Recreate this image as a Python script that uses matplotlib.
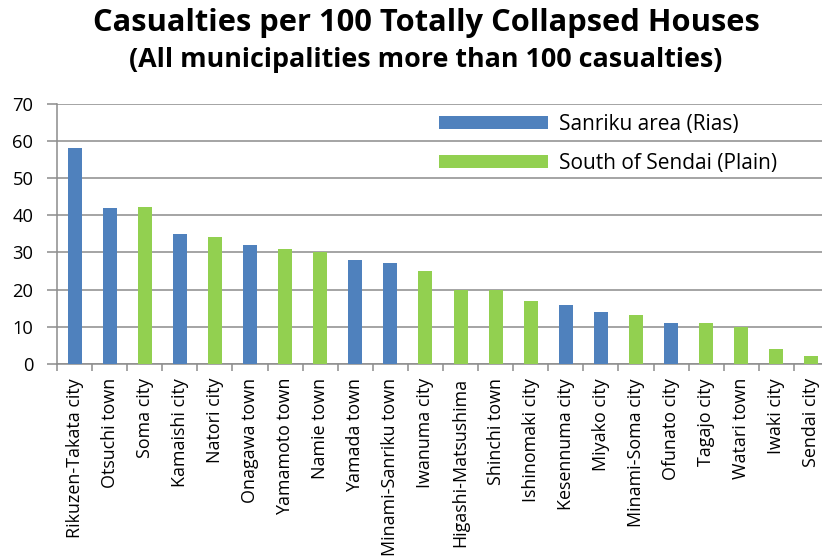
import matplotlib
matplotlib.use("Agg")
import matplotlib.pyplot as plt
from matplotlib.patches import Patch

categories = ["Rikuzen-Takata city", "Otsuchi town", "Soma city", "Kamaishi city",
              "Natori city", "Onagawa town", "Yamamoto town", "Namie town",
              "Yamada town", "Minami-Sanriku town", "Iwanuma city",
              "Higashi-Matsushima", "Shinchi town", "Ishinomaki city",
              "Kesennuma city", "Miyako city", "Minami-Soma city", "Ofunato city",
              "Tagajo city", "Watari town", "Iwaki city", "Sendai city"]
values = [58, 42, 42.2, 35, 34.1, 32, 30.9, 30.1, 28, 27.1, 25,
          20, 20, 16.9, 16, 14, 13.2, 10.9, 11, 9.9, 4, 2.2]
regions = ["Sanriku", "Sanriku", "South", "Sanriku", "South", "Sanriku", "South",
           "South", "Sanriku", "Sanriku", "South", "South", "South", "South",
           "Sanriku", "Sanriku", "South", "Sanriku", "South", "South", "South", "South"]
legend_labels = {"Sanriku": "Sanriku area (Rias)", "South": "South of Sendai (Plain)"}
colors = {"Sanriku": "#4f81bd", "South": "#92d050"}
yticks = [0, 10, 20, 30, 40, 50, 60, 70]

W, H = 822, 557
fig = plt.figure(figsize=(W / 100, H / 100), dpi=100)
ax = fig.add_axes([57 / W, (H - 364) / H, 772 / W, 260.3 / H])

xs = list(range(len(categories)))
ax.bar(xs, values, width=0.4, color=[colors[r] for r in regions], zorder=3)

ax.set_xlim(-0.5, len(categories) - 0.5)
ax.set_ylim(0, 70)
ax.set_yticks(yticks)
ax.grid(axis="y", color="#8c8c8c", linewidth=1.1, zorder=0)
ax.set_axisbelow(True)

font = "Open Sans"
ax.set_xticks(xs)
ax.set_xticklabels(categories, rotation=90, fontsize=12.9, family=font)
ax.set_xticks([x - 0.5 for x in xs] + [len(xs) - 0.5], minor=True)
ax.tick_params(axis="x", which="major", length=0, pad=10)
ax.tick_params(axis="x", which="minor", length=5, color="#8c8c8c", width=1.1)
ax.tick_params(axis="y", length=7, color="#8c8c8c", width=1.1, pad=10, labelsize=13.2)
for lab in ax.get_yticklabels():
    lab.set_family(font)

for s in ["top", "right"]:
    ax.spines[s].set_visible(False)
for s in ["left", "bottom"]:
    ax.spines[s].set_color("#8c8c8c")
    ax.spines[s].set_linewidth(1.1)

fig.text(426.5 / W, 1 - 23 / H, "Casualties per 100 Totally Collapsed Houses",
         ha="center", va="center", fontsize=22.2, fontweight="bold", family=font)
fig.text(425.5 / W, 1 - 60 / H, "(All municipalities more than 100 casualties)",
         ha="center", va="center", fontsize=19.4, fontweight="bold", family=font)

handles = [Patch(facecolor=colors[k], label=legend_labels[k]) for k in ["Sanriku", "South"]]
fig.legend(handles=handles, loc="upper left", bbox_to_anchor=(439 / W, 1 - 114 / H),
           frameon=False, prop={"family": font, "size": 15},
           handlelength=5.24, handleheight=0.58, handletextpad=0.53,
           labelspacing=0.84, borderpad=0, borderaxespad=0)

fig.savefig("out.png", dpi=100)
